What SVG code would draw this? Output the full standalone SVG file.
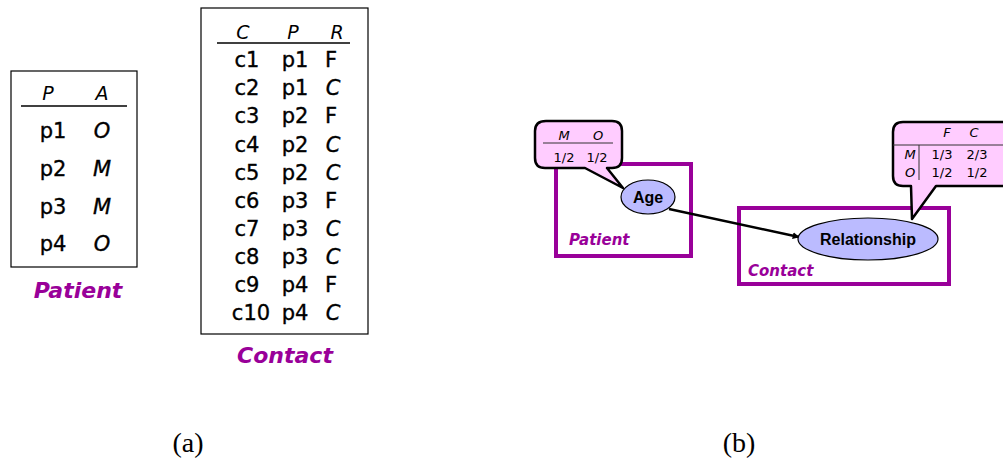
<svg xmlns="http://www.w3.org/2000/svg" width="1003" height="463" viewBox="0 0 1003 463">
  <style>
    .tbl { fill: #fff; stroke: #000; stroke-width: 1.2; }
    .rule { stroke: #000; stroke-width: 1.3; }
    .cell { font-family: "DejaVu Sans", "Noto Sans", sans-serif; font-size: 21px; fill: #000; stroke: #000; stroke-width: 0.35; text-anchor: middle; }
    .it { font-style: italic; }
    .hdr { font-family: "DejaVu Sans", sans-serif; font-style: italic; font-size: 19px; fill: #000; text-anchor: middle; }
    .title { font-family: "DejaVu Sans", "Noto Sans", sans-serif; font-weight: bold; font-style: italic; font-size: 22px; fill: #990099; text-anchor: middle; }
    .plate { fill: none; stroke: #990099; stroke-width: 4; }
    .plabel { font-family: "DejaVu Sans", sans-serif; font-weight: bold; font-style: italic; font-size: 15px; fill: #990099; }
    .node { fill: #BBBBFF; stroke: #000; stroke-width: 1.2; }
    .nlabel { font-family: "Liberation Sans", Arial, sans-serif; font-weight: bold; font-size: 16px; fill: #000; text-anchor: middle; }
    .bubble { fill: #FFCCFF; stroke: #000; stroke-width: 2.5; stroke-linejoin: round; }
    .btxt { font-family: "DejaVu Sans", sans-serif; font-size: 13px; fill: #000; text-anchor: middle; }
    .bline { stroke: #333; stroke-width: 1; }
    .cap { font-family: "Liberation Serif", "Times New Roman", serif; font-size: 28px; fill: #000; text-anchor: middle; }
  </style>
  <defs>
    <marker id="arrow" viewBox="0 0 10 10" refX="9" refY="5" markerWidth="7" markerHeight="7" orient="auto" markerUnits="userSpaceOnUse">
      <path d="M0,0 L10,5 L0,10 z" fill="#000"/>
    </marker>
  </defs>

  <!-- (a) Patient relation -->
  <g id="patient-table">
    <rect class="tbl" x="11" y="71" width="126" height="196"/>
    <text class="hdr" x="48" y="100">P</text>
    <text class="hdr" x="102" y="100">A</text>
    <line class="rule" x1="21" y1="106" x2="127" y2="106"/>
    <text class="cell" x="53" y="138">p1</text><text class="cell it" x="102" y="138">O</text>
    <text class="cell" x="53" y="176">p2</text><text class="cell it" x="102" y="176">M</text>
    <text class="cell" x="53" y="214">p3</text><text class="cell it" x="102" y="214">M</text>
    <text class="cell" x="53" y="251">p4</text><text class="cell it" x="102" y="251">O</text>
    <text class="title" x="78" y="298">Patient</text>
  </g>

  <!-- (a) Contact relation -->
  <g id="contact-table">
    <rect class="tbl" x="201" y="8" width="167" height="326"/>
    <text class="hdr" x="243" y="39">C</text>
    <text class="hdr" x="293" y="39">P</text>
    <text class="hdr" x="337" y="39">R</text>
    <line class="rule" x1="217" y1="43" x2="350" y2="43"/>
    <text class="cell" x="247" y="67">c1</text><text class="cell" x="295" y="67">p1</text><text class="cell" x="331" y="67">F</text>
    <text class="cell" x="247" y="95">c2</text><text class="cell" x="295" y="95">p1</text><text class="cell it" x="333" y="95">C</text>
    <text class="cell" x="247" y="123">c3</text><text class="cell" x="295" y="123">p2</text><text class="cell" x="331" y="123">F</text>
    <text class="cell" x="247" y="152">c4</text><text class="cell" x="295" y="152">p2</text><text class="cell it" x="333" y="152">C</text>
    <text class="cell" x="247" y="180">c5</text><text class="cell" x="295" y="180">p2</text><text class="cell it" x="333" y="180">C</text>
    <text class="cell" x="247" y="208">c6</text><text class="cell" x="295" y="208">p3</text><text class="cell" x="331" y="208">F</text>
    <text class="cell" x="247" y="236">c7</text><text class="cell" x="295" y="236">p3</text><text class="cell it" x="333" y="236">C</text>
    <text class="cell" x="247" y="264">c8</text><text class="cell" x="295" y="264">p3</text><text class="cell it" x="333" y="264">C</text>
    <text class="cell" x="247" y="292">c9</text><text class="cell" x="295" y="292">p4</text><text class="cell" x="331" y="292">F</text>
    <text class="cell" x="251" y="320">c10</text><text class="cell" x="295" y="320">p4</text><text class="cell it" x="333" y="320">C</text>
    <text class="title" x="285" y="363">Contact</text>
  </g>

  <!-- (b) plates -->
  <g id="patient-plate">
    <rect class="plate" x="556" y="164" width="135" height="92"/>
    <text class="plabel" x="569" y="245">Patient</text>
  </g>
  <g id="contact-plate">
    <rect class="plate" x="739" y="208" width="210" height="76"/>
    <text class="plabel" x="748" y="276">Contact</text>
  </g>

  <!-- (b) CPD callouts -->
  <g id="age-cpd">
    <path class="bubble" d="M546,121 H612 Q622,121 622,131 V158 Q622,168 612,168 H607 L623,188 L585,168 H545 Q535,168 535,158 V131 Q535,121 546,121 Z"/>
    <line class="bline" x1="543" y1="143" x2="613" y2="143"/>
    <text class="btxt" x="564" y="140" font-style="italic">M</text>
    <text class="btxt" x="598" y="140" font-style="italic">O</text>
    <text class="btxt" x="564" y="162">1/2</text>
    <text class="btxt" x="597" y="162">1/2</text>
  </g>
  <g id="relationship-cpd">
    <path class="bubble" d="M903,122 H1010 V186 H936 L912,219 L911,186 H903 Q893,186 893,176 V132 Q893,122 903,122 Z"/>
    <line class="bline" x1="893" y1="145" x2="1003" y2="145"/>
    <line class="bline" x1="919" y1="145" x2="919" y2="180"/>
    <text class="btxt" x="947" y="137" font-style="italic">F</text>
    <text class="btxt" x="974" y="137" font-style="italic">C</text>
    <text class="btxt" x="910" y="159" font-style="italic">M</text>
    <text class="btxt" x="910" y="177" font-style="italic">O</text>
    <text class="btxt" x="942" y="159">1/3</text>
    <text class="btxt" x="977" y="159">2/3</text>
    <text class="btxt" x="942" y="177">1/2</text>
    <text class="btxt" x="977" y="177">1/2</text>
  </g>

  <!-- (b) connectors -->
  <g id="connectors">
    <line x1="669" y1="209" x2="799" y2="237" stroke="#000" stroke-width="2.5" marker-end="url(#arrow)"/>
  </g>

  <!-- (b) nodes -->
  <g id="age">
    <ellipse class="node" cx="648" cy="197" rx="27" ry="17"/>
    <text class="nlabel" x="648" y="203">Age</text>
  </g>
  <g id="relationship">
    <ellipse class="node" cx="868" cy="239" rx="70" ry="21"/>
    <text class="nlabel" x="868" y="245">Relationship</text>
  </g>

  <!-- sub-figure captions -->
  <text class="cap" x="188" y="452">(a)</text>
  <text class="cap" x="739" y="452">(b)</text>
</svg>
